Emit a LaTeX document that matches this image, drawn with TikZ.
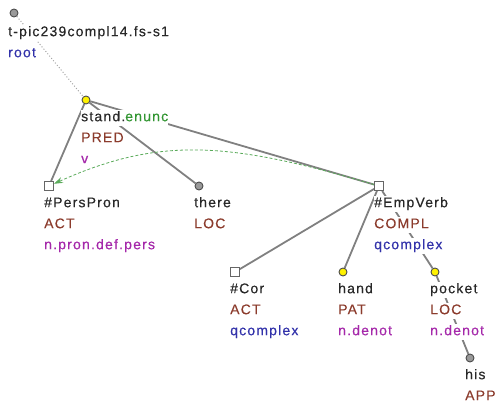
\documentclass[tikz,border=0pt]{standalone}
\usepackage{fontspec}
\setmainfont{Liberation Sans}[LetterSpace=8.5,FakeBold=0.3]
\usetikzlibrary{arrows.meta}
\definecolor{tx}{RGB}{40,40,40}
\definecolor{fn}{RGB}{140,60,45}
\definecolor{bl}{RGB}{50,50,170}
\definecolor{pu}{RGB}{165,40,170}
\definecolor{gr}{RGB}{50,150,50}
\definecolor{edgec}{RGB}{128,128,128}
\setlength{\fboxsep}{0pt}
\newcommand{\Ln}[2]{\colorbox{white}{\textcolor{#1}{\rule[-5pt]{0pt}{16pt}#2}}}
\pgfdeclarelayer{bg}
\pgfsetlayers{bg,main}
\begin{document}
\begin{tikzpicture}[x=1pt,y=-1pt,
  edge/.style={draw=edgec, line width=1.8pt},
  greyn/.style={circle, draw=black!70, fill=black!40, minimum size=8pt, inner sep=0pt, line width=0.9pt},
  yeln/.style={circle, draw=black!70, fill=yellow, minimum size=8pt, inner sep=0pt, line width=0.9pt},
  sqn/.style={rectangle, draw=black!60, fill=white, minimum size=9pt, inner sep=0pt, line width=0.9pt},
  lab/.style={anchor=north west, inner sep=0pt, align=left, font=\fontsize{14}{21}\selectfont}]
\useasboundingbox (0,0) rectangle (501,415);
% markers
\node[greyn] (root) at (14,13) {};
\node[yeln] (stand) at (86,100) {};
\node[sqn] (pers) at (49,186) {};
\node[greyn] (there) at (199,186) {};
\node[sqn] (emp) at (379,186) {};
\node[sqn] (cor) at (235,272) {};
\node[yeln] (hand) at (343,272) {};
\node[yeln] (pocket) at (435,272) {};
\node[greyn] (his) at (470,358) {};
\coordinate (ctlA) at (230,142);
\coordinate (ctlB) at (160,136);
% edges
\begin{pgfonlayer}{bg}
\draw[draw=black!35, line width=1pt, dotted] (root) -- (stand);
\draw[edge] (stand) -- (pers);
\draw[edge] (stand) -- (there);
\draw[edge] (stand) -- (emp);
\draw[edge] (emp) -- (cor);
\draw[edge] (emp) -- (hand);
\draw[edge] (emp) -- (pocket);
\draw[edge] (pocket) -- (his);
\draw[gr!80, line width=0.8pt, dash pattern=on 3pt off 2pt, -{Stealth[length=9pt,width=6pt]}] (emp) .. controls (ctlA) and (ctlB) .. (pers);
\end{pgfonlayer}
% labels
\node[lab] (lroot) at (8,25) {\Ln{tx}{t-pic239compl14.fs-s1}\\\Ln{bl}{root}};
\node[lab] (lstand) at (81,110) {\colorbox{white}{\rule[-5pt]{0pt}{16pt}\textcolor{tx}{stand.}\textcolor{gr}{enunc}}\\\Ln{fn}{PRED}\\\Ln{pu}{v}};
\node[lab] (lpers) at (44,196) {\Ln{tx}{\#PersPron}\\\Ln{fn}{ACT}\\\Ln{pu}{n.pron.def.pers}};
\node[lab] (lthere) at (194,196) {\Ln{tx}{there}\\\Ln{fn}{LOC}};
\node[lab] (lemp) at (374,196) {\Ln{tx}{\#EmpVerb}\\\Ln{fn}{COMPL}\\\Ln{bl}{qcomplex}};
\node[lab] (lcor) at (230,282) {\Ln{tx}{\#Cor}\\\Ln{fn}{ACT}\\\Ln{bl}{qcomplex}};
\node[lab] (lhand) at (338,282) {\Ln{tx}{hand}\\\Ln{fn}{PAT}\\\Ln{pu}{n.denot}};
\node[lab] (lpocket) at (430,282) {\Ln{tx}{pocket}\\\Ln{fn}{LOC}\\\Ln{pu}{n.denot}};
\node[lab] (lhis) at (465,368) {\Ln{tx}{his}\\\Ln{fn}{APP}};
\end{tikzpicture}
\end{document}
